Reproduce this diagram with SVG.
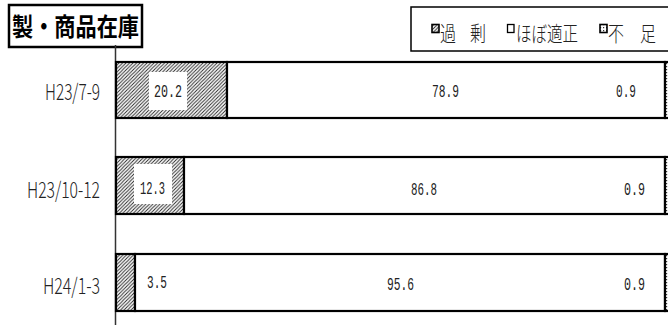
<svg xmlns="http://www.w3.org/2000/svg" width="668" height="325" viewBox="0 0 668 325">
<defs>
<pattern id="hatch" patternUnits="userSpaceOnUse" width="3.5" height="3.5">
<rect width="3.5" height="3.5" fill="#fff"/>
<path d="M-1,1 l2,-2 M0,3.5 l3.5,-3.5 M2.5,4.5 l2,-2" stroke="#222" stroke-width="0.9"/>
</pattern>
<pattern id="dots" patternUnits="userSpaceOnUse" width="3" height="3">
<rect width="3" height="3" fill="#fff"/>
<rect x="0" y="0" width="1.2" height="1.2" fill="#333"/>
</pattern>
<style>
.bar{stroke:#000;stroke-width:2.2}
.cat{font-family:"Noto Sans CJK JP","Liberation Sans",sans-serif;font-size:22px;font-weight:300;fill:#222}
.val{font-family:"Liberation Mono",monospace;font-size:18px;fill:#222}
.leg{font-family:"Noto Sans CJK JP",sans-serif;font-size:21px;font-weight:300;fill:#222}
.title{font-family:"Noto Sans CJK JP",sans-serif;font-size:25px;font-weight:bold;fill:#000}
</style>
</defs>
<rect width="668" height="325" fill="#fff"/>
<g id="title">
<rect x="9" y="5" width="133" height="42" fill="#fff" stroke="#000" stroke-width="2.5"/>
<text class="title" x="12" y="36" textLength="127" lengthAdjust="spacingAndGlyphs">製・商品在庫</text>
</g>
<g id="legend">
<rect x="411" y="7" width="262" height="44" fill="#fff" stroke="#000" stroke-width="1.5"/>
<rect x="432" y="24.5" width="7" height="8" fill="url(#hatch)" stroke="#000" stroke-width="1.6"/>
<text class="leg" x="440" y="41" textLength="16" lengthAdjust="spacingAndGlyphs">過</text>
<text class="leg" x="470" y="41" textLength="16" lengthAdjust="spacingAndGlyphs">剰</text>
<rect x="507.5" y="24.5" width="6.5" height="8" fill="#fff" stroke="#000" stroke-width="1.3"/>
<text class="leg" x="516" y="41" textLength="62" lengthAdjust="spacingAndGlyphs">ほぼ適正</text>
<rect x="600" y="24.5" width="7" height="8" fill="url(#dots)" stroke="#000" stroke-width="1.6"/>
<text class="leg" x="608" y="41" textLength="16" lengthAdjust="spacingAndGlyphs">不</text>
<text class="leg" x="640" y="41" textLength="16" lengthAdjust="spacingAndGlyphs">足</text>
</g>
<g id="connectors">
<line x1="115.5" y1="45" x2="115.5" y2="325" stroke="#333" stroke-width="1.5"/>
</g>
<g id="bar-h23-7-9">
<text class="cat" x="45" y="100" textLength="55" lengthAdjust="spacingAndGlyphs">H23/7-9</text>
<rect class="bar" x="116" y="62" width="111" height="56" fill="url(#hatch)"/>
<rect class="bar" x="227" y="62" width="438" height="56" fill="#fff"/>
<rect class="bar" x="665" y="62" width="6" height="56" fill="url(#dots)"/>
<rect x="149" y="72" width="38" height="38" fill="#fff"/>
<text class="val" x="154" y="97" textLength="28" lengthAdjust="spacingAndGlyphs">20.2</text>
<text class="val" x="432" y="97" textLength="27" lengthAdjust="spacingAndGlyphs">78.9</text>
<text class="val" x="616" y="97" textLength="20" lengthAdjust="spacingAndGlyphs">0.9</text>
</g>
<g id="bar-h23-10-12">
<text class="cat" x="27" y="198" textLength="73" lengthAdjust="spacingAndGlyphs">H23/10-12</text>
<rect class="bar" x="116" y="157" width="68" height="57" fill="url(#hatch)"/>
<rect class="bar" x="184" y="157" width="481" height="57" fill="#fff"/>
<rect class="bar" x="665" y="157" width="6" height="57" fill="url(#dots)"/>
<rect x="134" y="164" width="38" height="40" fill="#fff"/>
<text class="val" x="140" y="194" textLength="25" lengthAdjust="spacingAndGlyphs">12.3</text>
<text class="val" x="411" y="195" textLength="26" lengthAdjust="spacingAndGlyphs">86.8</text>
<text class="val" x="624" y="195" textLength="21" lengthAdjust="spacingAndGlyphs">0.9</text>
</g>
<g id="bar-h24-1-3">
<text class="cat" x="43" y="294" textLength="57" lengthAdjust="spacingAndGlyphs">H24/1-3</text>
<rect class="bar" x="116" y="254" width="19" height="57" fill="url(#hatch)"/>
<rect class="bar" x="135" y="254" width="530" height="57" fill="#fff"/>
<rect class="bar" x="665" y="254" width="6" height="57" fill="url(#dots)"/>
<text class="val" x="147" y="288" textLength="20" lengthAdjust="spacingAndGlyphs">3.5</text>
<text class="val" x="387" y="290" textLength="27" lengthAdjust="spacingAndGlyphs">95.6</text>
<text class="val" x="624" y="290" textLength="21" lengthAdjust="spacingAndGlyphs">0.9</text>
</g>
</svg>
